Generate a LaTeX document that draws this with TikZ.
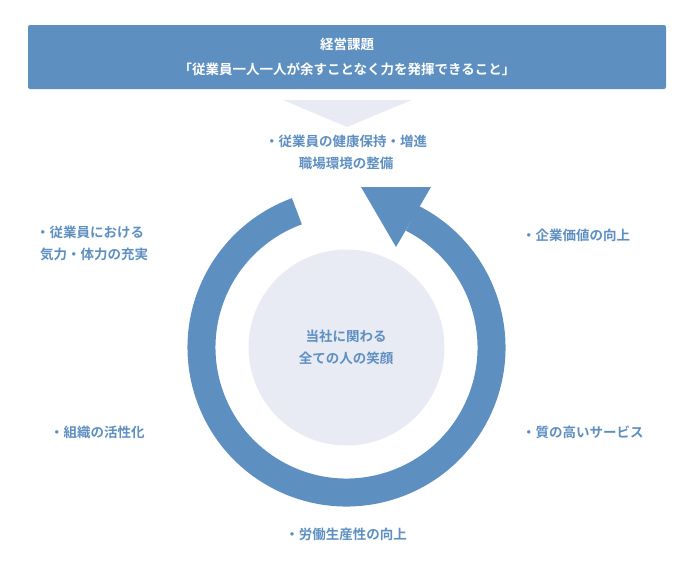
\documentclass[tikz,border=0pt]{standalone}
\usepackage{fontspec}
\setmainfont{Noto Sans CJK JP}[BoldFont={* Bold}]
\definecolor{mblue}{HTML}{5E8FC1}
\definecolor{mlight}{HTML}{E8EBF4}
\begin{document}
\begin{tikzpicture}[x=1pt,y=-1pt,
  lbl/.style={text=mblue,font=\bfseries\fontsize{13.5}{22}\selectfont,inner sep=0pt}]
\useasboundingbox (0,0) rectangle (695,566);
\node[fill=mblue,rounded corners=2pt,minimum width=638pt,minimum height=64pt,inner sep=0pt] (banner) at (347,57) {};
\node[text=white,font=\bfseries\fontsize{13.5}{25}\selectfont,align=center] (btext) at (347,57) {経営課題\\「従業員一人一人が余すことなく力を発揮できること」};
\fill[mlight] (283,100) -- (412,100) -- (347,127) -- cycle;
\fill[mlight] (346.5,347.5) circle (98);
\draw[mblue,line width=28pt] (346.5,347.5) ++(-63:145) arc[start angle=-63,end angle=250,radius=145];
\fill[mblue] (361,187) -- (431,187) -- (396,247) -- cycle;
\node[lbl,align=center] (n1) at (346,152) {・従業員の健康保持・増進\\職場環境の整備};
\node[lbl,align=center] (c) at (346,347) {当社に関わる\\全ての人の笑顔};
\node[lbl,anchor=west] (n2) at (522,235) {・企業価値の向上};
\node[lbl,anchor=west,align=left] (n3) at (36,243) {・従業員における\\\hspace{4pt}気力・体力の充実};
\node[lbl,anchor=west] (n4) at (50,432) {・組織の活性化};
\node[lbl,anchor=west] (n5) at (522,432) {・質の高いサービス};
\node[lbl] (n6) at (346,534) {・労働生産性の向上};
\end{tikzpicture}
\end{document}
